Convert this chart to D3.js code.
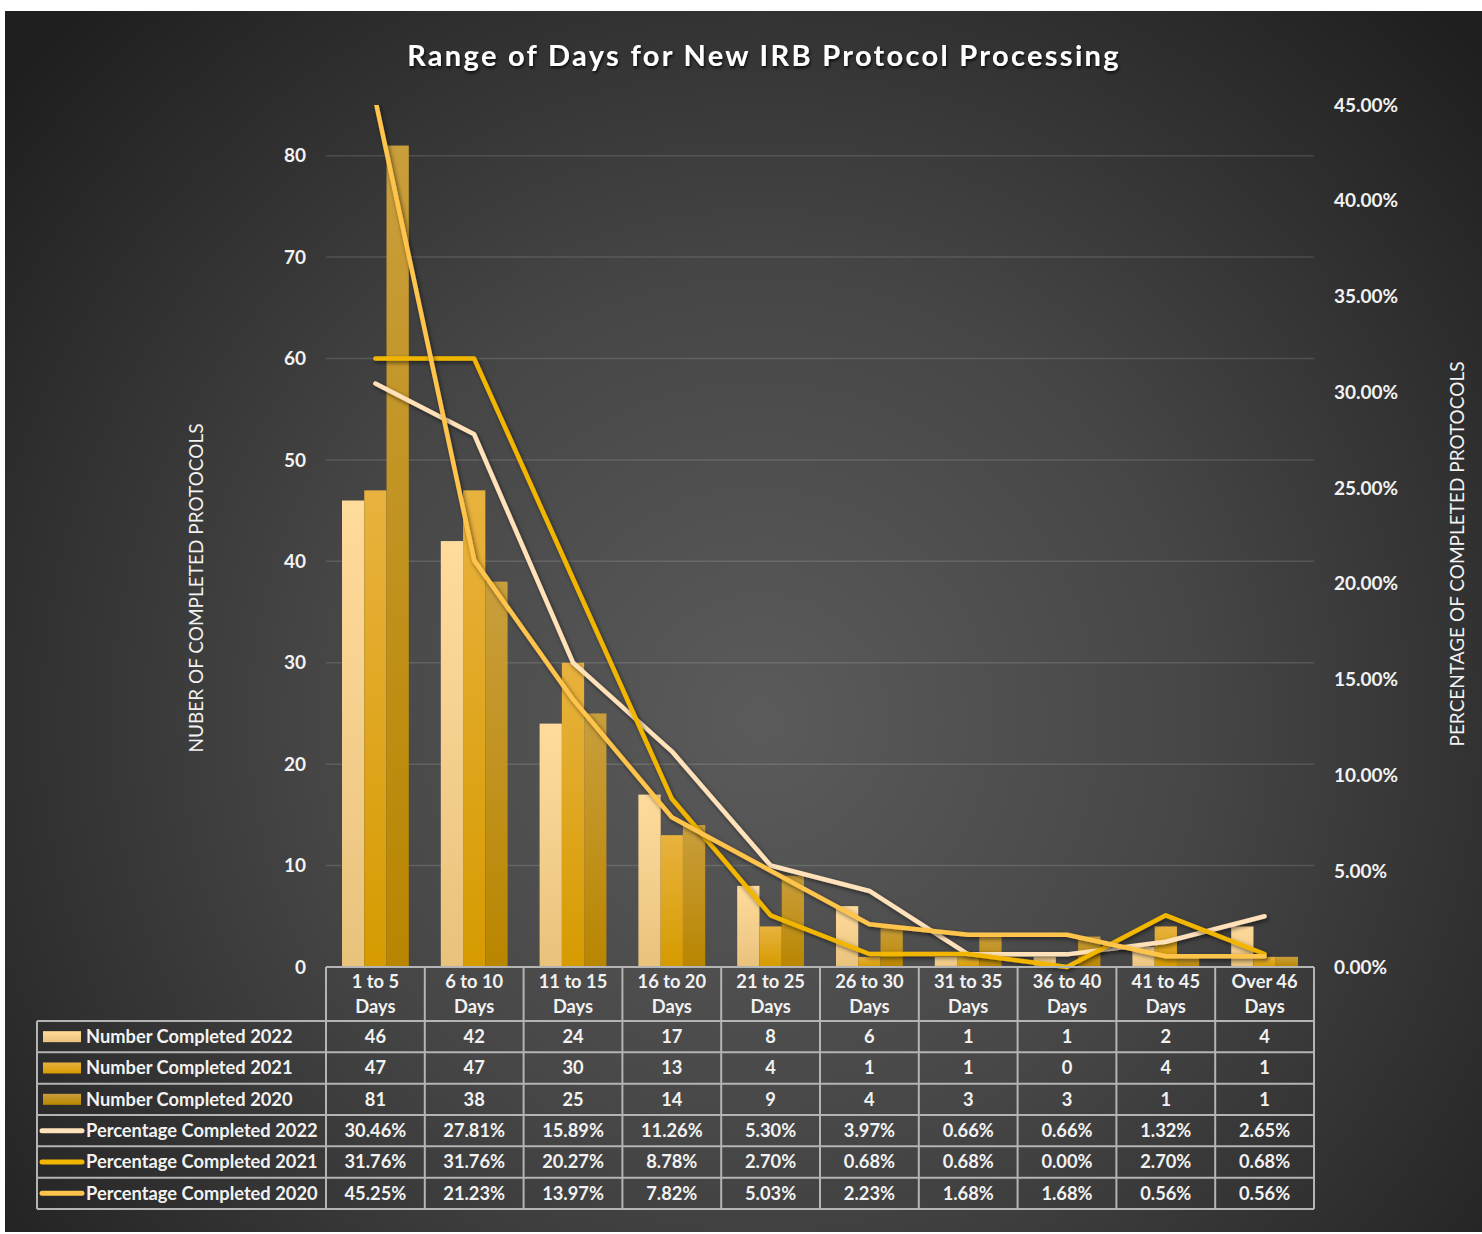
<!DOCTYPE html>
<html>
<head>
<meta charset="utf-8">
<script src="https://cdn.jsdelivr.net/npm/d3@7"></script>
<style>
  html, body { margin: 0; padding: 0; background: #ffffff; }
  svg { display: block; }
  text { font-family: "Lato", "Open Sans", sans-serif; }
</style>
</head>
<body>
<svg id="chart" width="1482" height="1234"></svg>
<script>
const title = "Range of Days for New IRB Protocol Processing";
const categories = ["1 to 5 Days", "6 to 10 Days", "11 to 15 Days", "16 to 20 Days", "21 to 25 Days",
                    "26 to 30 Days", "31 to 35 Days", "36 to 40 Days", "41 to 45 Days", "Over 46 Days"];
const num2022 = [46, 42, 24, 17, 8, 6, 1, 1, 2, 4];
const num2021 = [47, 47, 30, 13, 4, 1, 1, 0, 4, 1];
const num2020 = [81, 38, 25, 14, 9, 4, 3, 3, 1, 1];
const pct2022 = [30.46, 27.81, 15.89, 11.26, 5.30, 3.97, 0.66, 0.66, 1.32, 2.65];
const pct2021 = [31.76, 31.76, 20.27, 8.78, 2.70, 0.68, 0.68, 0.00, 2.70, 0.68];
const pct2020 = [45.25, 21.23, 13.97, 7.82, 5.03, 2.23, 1.68, 1.68, 0.56, 0.56];
const leftTicks = [0, 10, 20, 30, 40, 50, 60, 70, 80];
const rightTicks = [0, 5, 10, 15, 20, 25, 30, 35, 40, 45];
const barSeriesNames = ["Number Completed 2022", "Number Completed 2021", "Number Completed 2020"];
const lineSeriesNames = ["Percentage Completed 2022", "Percentage Completed 2021", "Percentage Completed 2020"];
const leftAxisTitle = "NUBER OF COMPLETED PROTOCOLS";
const rightAxisTitle = "PERCENTAGE OF COMPLETED PROTOCOLS";

const barSeries = [
  {name: barSeriesNames[0], values: num2022, top: "#FFDB9C", bottom: "#E9C27C"},
  {name: barSeriesNames[1], values: num2021, top: "#E8B23E", bottom: "#D69B00"},
  {name: barSeriesNames[2], values: num2020, top: "#C99E3C", bottom: "#B98600"}
];
const lineSeries = [
  {name: lineSeriesNames[0], values: pct2022, color: "#FFE2BA"},
  {name: lineSeriesNames[1], values: pct2021, color: "#F2B600"},
  {name: lineSeriesNames[2], values: pct2020, color: "#FFC44C"}
];

const svg = d3.select("#chart");
const defs = svg.append("defs");

// background gradient
const bg = defs.append("radialGradient").attr("id", "bgGrad")
  .attr("gradientUnits", "userSpaceOnUse").attr("cx", 760).attr("cy", 720).attr("r", 980);
bg.append("stop").attr("offset", 0).attr("stop-color", "#5b5b5b");
bg.append("stop").attr("offset", 0.45).attr("stop-color", "#464646");
bg.append("stop").attr("offset", 1).attr("stop-color", "#1f1f1f");

barSeries.forEach((s, i) => {
  const g = defs.append("linearGradient").attr("id", "barGrad" + i)
    .attr("x1", 0).attr("y1", 0).attr("x2", 0).attr("y2", 1);
  g.append("stop").attr("offset", 0).attr("stop-color", s.top);
  g.append("stop").attr("offset", 1).attr("stop-color", s.bottom);
});

const shadow = defs.append("filter").attr("id", "shadow")
  .attr("x", "-20%").attr("y", "-20%").attr("width", "140%").attr("height", "140%");
shadow.append("feDropShadow").attr("dx", 1.5).attr("dy", 2).attr("stdDeviation", 2)
  .attr("flood-color", "#000").attr("flood-opacity", 0.55);
const tshadow = defs.append("filter").attr("id", "tshadow")
  .attr("x", "-10%").attr("y", "-30%").attr("width", "120%").attr("height", "160%");
tshadow.append("feDropShadow").attr("dx", 1).attr("dy", 2).attr("stdDeviation", 1.5)
  .attr("flood-color", "#000").attr("flood-opacity", 0.8);

svg.append("rect").attr("x", 5).attr("y", 11).attr("width", 1477).attr("height", 1221)
  .attr("fill", "url(#bgGrad)");

// plot geometry
const plotLeft = 326, plotRight = 1314, plotTop = 105, plotBottom = 967;

const x = d3.scaleBand().domain(categories).range([plotLeft, plotRight]).paddingInner(0).paddingOuter(0);
const bw = x.bandwidth();
const xs = d3.scaleBand().domain(d3.range(barSeries.length)).range([16, bw - 16]).padding(0);
const yL = d3.scaleLinear().domain([0, 85]).range([plotBottom, plotTop]);
const yR = d3.scaleLinear().domain([0, 45]).range([plotBottom, plotTop]);

defs.append("clipPath").attr("id", "plotClip").append("rect")
  .attr("x", plotLeft - 10).attr("y", plotTop).attr("width", plotRight - plotLeft + 20)
  .attr("height", plotBottom - plotTop + 10);

// gridlines
svg.append("g").selectAll("line").data(leftTicks.filter(d => d > 0)).join("line")
  .attr("x1", plotLeft).attr("x2", plotRight)
  .attr("y1", d => yL(d)).attr("y2", d => yL(d))
  .attr("stroke", "#ffffff").attr("stroke-opacity", 0.13).attr("stroke-width", 1.5);

// left axis labels
const leftAxis = d3.axisLeft(yL).tickValues(leftTicks).tickSize(0).tickPadding(20);
const gL = svg.append("g").attr("transform", `translate(${plotLeft},0)`).call(leftAxis);
gL.select(".domain").remove();
gL.selectAll("text").attr("fill", "#f2f2f2").attr("font-size", 19).attr("font-weight", 700)
  .attr("font-family", "Lato, sans-serif");

// right axis labels
const rightAxis = d3.axisRight(yR).tickValues(rightTicks).tickSize(0).tickPadding(20)
  .tickFormat(d => d.toFixed(2) + "%");
const gR = svg.append("g").attr("transform", `translate(${plotRight},0)`).call(rightAxis);
gR.select(".domain").remove();
gR.selectAll("text").attr("fill", "#f2f2f2").attr("font-size", 19).attr("font-weight", 700)
  .attr("font-family", "Lato, sans-serif");

// bars
const barsG = svg.append("g").attr("clip-path", "url(#plotClip)");
barSeries.forEach((s, i) => {
  barsG.append("g").selectAll("rect").data(s.values).join("rect")
    .attr("x", (d, j) => x(categories[j]) + xs(i))
    .attr("width", xs.bandwidth())
    .attr("y", d => yL(d))
    .attr("height", d => plotBottom - yL(d))
    .attr("fill", `url(#barGrad${i})`);
});

// lines
const linesG = svg.append("g").attr("clip-path", "url(#plotClip)");
lineSeries.forEach(s => {
  const line = d3.line()
    .x((d, j) => x(categories[j]) + bw / 2)
    .y(d => yR(d));
  linesG.append("path").datum(s.values)
    .attr("d", line)
    .attr("fill", "none")
    .attr("stroke", s.color)
    .attr("stroke-width", 4.5)
    .attr("stroke-linejoin", "round")
    .attr("stroke-linecap", "round")
    .attr("filter", "url(#shadow)");
});

// title
svg.append("text").attr("x", 764).attr("y", 66).attr("text-anchor", "middle")
  .attr("fill", "#ffffff").attr("font-size", 29).attr("font-weight", 700)
  .attr("letter-spacing", 2.3).attr("filter", "url(#tshadow)")
  .text(title);

// axis titles
svg.append("text").attr("transform", `translate(203,588) rotate(-90)`)
  .attr("text-anchor", "middle").attr("fill", "#f2f2f2").attr("font-size", 19)
  .text(leftAxisTitle);
svg.append("text").attr("transform", `translate(1464,554) rotate(-90)`)
  .attr("text-anchor", "middle").attr("fill", "#f2f2f2").attr("font-size", 19)
  .text(rightAxisTitle);

// data table
const headerTop = plotBottom, headerBottom = 1021, rowH = 31.33, legendLeft = 37;
const tableBottom = headerBottom + rowH * 6;
const tableColor = "#b4b4b4";
const tbl = svg.append("g");
const fs = 18.3;

// horizontal lines
tbl.append("line").attr("x1", plotLeft).attr("x2", plotRight).attr("y1", headerTop).attr("y2", headerTop)
  .attr("stroke", tableColor).attr("stroke-width", 2);
d3.range(7).forEach(k => {
  const yy = headerBottom + k * rowH;
  tbl.append("line").attr("x1", legendLeft).attr("x2", plotRight).attr("y1", yy).attr("y2", yy)
    .attr("stroke", tableColor).attr("stroke-width", 2);
});
// vertical lines
const colEdges = categories.map(c => x(c)).concat([plotRight]);
tbl.selectAll("line.v").data(colEdges).join("line").attr("class", "v")
  .attr("x1", d => d).attr("x2", d => d).attr("y1", headerTop).attr("y2", tableBottom)
  .attr("stroke", tableColor).attr("stroke-width", 2);
tbl.append("line").attr("x1", legendLeft).attr("x2", legendLeft).attr("y1", headerBottom).attr("y2", tableBottom)
  .attr("stroke", tableColor).attr("stroke-width", 2);

// header text
categories.forEach(c => {
  const parts = [c.replace(/ Days$/, ""), "Days"];
  parts.forEach((p, k) => {
    tbl.append("text").attr("x", x(c) + bw / 2).attr("y", 988 + k * 25)
      .attr("text-anchor", "middle").attr("fill", "#f2f2f2").attr("font-size", fs)
      .attr("font-weight", 700).text(p);
  });
});

// rows
const rows = [
  ...barSeries.map((s, i) => ({name: s.name, values: s.values.map(v => String(v)), kind: "bar", i})),
  ...lineSeries.map((s, i) => ({name: s.name, values: s.values.map(v => v.toFixed(2) + "%"), kind: "line", i}))
];
rows.forEach((r, k) => {
  const cy = headerBottom + k * rowH + rowH / 2;
  if (r.kind === "bar") {
    tbl.append("rect").attr("x", 43).attr("y", cy - 5.5).attr("width", 38).attr("height", 11)
      .attr("fill", `url(#barGrad${r.i})`);
  } else {
    tbl.append("line").attr("x1", 42).attr("x2", 82).attr("y1", cy).attr("y2", cy)
      .attr("stroke", lineSeries[r.i].color).attr("stroke-width", 5).attr("stroke-linecap", "round");
  }
  tbl.append("text").attr("x", 86).attr("y", cy).attr("dy", "0.35em")
    .attr("fill", "#f2f2f2").attr("font-size", fs).attr("font-weight", 700).text(r.name);
  r.values.forEach((v, j) => {
    tbl.append("text").attr("x", x(categories[j]) + bw / 2).attr("y", cy).attr("dy", "0.35em")
      .attr("text-anchor", "middle").attr("fill", "#f2f2f2").attr("font-size", fs)
      .attr("font-weight", 700).text(v);
  });
});
</script>
</body>
</html>
